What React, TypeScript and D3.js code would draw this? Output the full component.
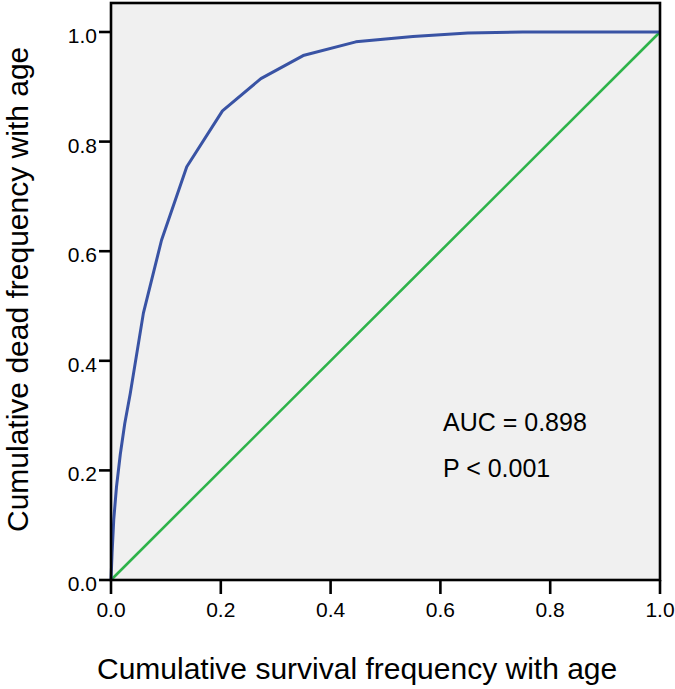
import React from "react";
import * as d3 from "d3";

const rocX = [0, 0.002, 0.005, 0.01, 0.017, 0.025, 0.035, 0.059, 0.092, 0.138, 0.203, 0.273, 0.35, 0.446, 0.55, 0.65, 0.75, 0.85, 1.0];
const rocY = [0, 0.05, 0.11, 0.17, 0.23, 0.285, 0.34, 0.487, 0.62, 0.754, 0.856, 0.915, 0.957, 0.982, 0.992, 0.998, 1.0, 1.0, 1.0];
const refX = [0, 1];
const refY = [0, 1];
const ticks = [0, 0.2, 0.4, 0.6, 0.8, 1.0];
const xTitle = "Cumulative survival frequency with age";
const yTitle = "Cumulative dead frequency with age";
const annotations = ["AUC = 0.898", "P < 0.001"];

const W = 675;
const H = 689;
const FONT = "'Liberation Sans', Arial, sans-serif";

export default function App() {
  const x = d3.scaleLinear().domain([0, 1]).range([111, 660]);
  const y = d3.scaleLinear().domain([0, 1]).range([580, 32]);
  const yTop = 3;
  const line = d3
    .line<number>()
    .x((_, i) => x(rocX[i]))
    .y((d) => y(d));
  const refLine = d3
    .line<number>()
    .x((_, i) => x(refX[i]))
    .y((d) => y(d));

  return (
    <svg
      width={W}
      height={H}
      style={{ position: "absolute", left: 0, top: 0, background: "#ffffff" }}
      fontFamily={FONT}
    >
      <rect x={x(0)} y={yTop} width={x(1) - x(0)} height={y(0) - yTop} fill="#f0f0f0" />
      <path d={refLine(refY) || ""} fill="none" stroke="#2eb34a" strokeWidth={2.6} />
      <path d={line(rocY) || ""} fill="none" stroke="#3953a4" strokeWidth={3} strokeLinejoin="round" />
      <rect
        x={x(0)}
        y={yTop}
        width={x(1) - x(0)}
        height={y(0) - yTop}
        fill="none"
        stroke="#000"
        strokeWidth={2.6}
      />
      {ticks.map((t) => (
        <g key={"y" + t}>
          <line x1={x(0) - 12} x2={x(0)} y1={y(t)} y2={y(t)} stroke="#000" strokeWidth={2.6} />
          <text x={97} y={y(t) + 11} textAnchor="end" fontSize={21} fill="#000">
            {d3.format(".1f")(t)}
          </text>
        </g>
      ))}
      {ticks.map((t) => (
        <g key={"x" + t}>
          <line x1={x(t)} x2={x(t)} y1={y(0)} y2={y(0) + 14} stroke="#000" strokeWidth={2.6} />
          <text x={x(t)} y={617} textAnchor="middle" fontSize={21} fill="#000">
            {d3.format(".1f")(t)}
          </text>
        </g>
      ))}
      <text x={97} y={679} fontSize={30} fill="#000">
        {xTitle}
      </text>
      <text transform="translate(28,532) rotate(-90)" fontSize={30} fill="#000">
        {yTitle}
      </text>
      {annotations.map((a, i) => (
        <text key={a} x={443} y={431 + i * 46} fontSize={25} fill="#000">
          {a}
        </text>
      ))}
    </svg>
  );
}
